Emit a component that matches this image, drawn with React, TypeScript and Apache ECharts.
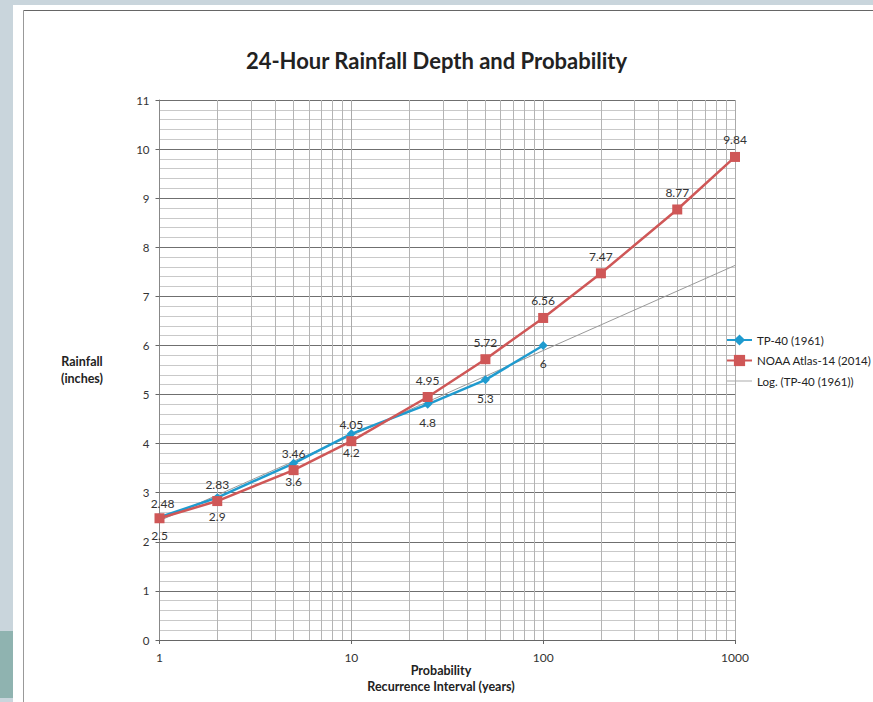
import React, { useEffect, useRef } from "react";
import * as echarts from "echarts";

const INTERVALS = [1, 2, 5, 10, 25, 50, 100, 200, 500, 1000];
const TP40 = [2.5, 2.9, 3.6, 4.2, 4.8, 5.3, 6];
const NOAA = [2.48, 2.83, 3.46, 4.05, 4.95, 5.72, 6.56, 7.47, 8.77, 9.84];
const TREND_X = [1, 1000];
const TREND_Y = [2.43, 7.63];
const MINOR_X = [2, 3, 4, 5, 6, 7, 8, 9, 20, 30, 40, 50, 60, 70, 80, 90, 200, 300, 400, 500, 600, 700, 800, 900];

const FONT = "Lato, 'Noto Sans', sans-serif";
const BLUE = "#1f9bcf";
const RED = "#cf5757";

export default function App() {
  const ref = useRef<HTMLDivElement>(null);
  useEffect(() => {
    if (!ref.current) return;
    const chart = echarts.init(ref.current, null, { renderer: "svg" });
    const labelStyle = { fontFamily: FONT, fontSize: 12, color: "#333" };
    chart.setOption({
      animation: false,
      backgroundColor: "#c9d5dc",
      textStyle: { fontFamily: FONT },
      graphic: [
        { type: "rect", z: -10, shape: { x: 13, y: 5, width: 860, height: 697 }, style: { fill: "#ffffff" } },
        { type: "rect", z: -10, shape: { x: 0, y: 631, width: 13, height: 67 }, style: { fill: "#8fb3b0" } },
        { type: "line", z: -9, shape: { x1: 23.5, y1: 10.5, x2: 873, y2: 10.5 }, style: { stroke: "#666", lineWidth: 1 } },
        { type: "line", z: -9, shape: { x1: 23.5, y1: 10.5, x2: 23.5, y2: 702 }, style: { stroke: "#999", lineWidth: 1 } },
        {
          type: "text", x: 82, y: 353,
          style: { text: "Rainfall\n(inches)", fontFamily: FONT, fontSize: 12.5, fontWeight: "bold", fill: "#222", lineHeight: 17, align: "center" },
        },
        {
          type: "text", x: 441, y: 662,
          style: { text: "Probability\nRecurrence Interval (years)", fontFamily: FONT, fontSize: 12.5, fontWeight: "bold", fill: "#222", lineHeight: 16, align: "center" },
        },
      ],
      title: {
        text: "24-Hour Rainfall Depth and Probability",
        left: "center",
        top: 44,
        textStyle: { fontFamily: FONT, fontSize: 22, fontWeight: "bold", color: "#222" },
      },
      legend: {
        orient: "vertical",
        left: 721,
        top: 329,
        itemWidth: 25,
        itemHeight: 14,
        itemGap: 8.5,
        textStyle: { fontFamily: FONT, fontSize: 11.5, color: "#222" },
        data: [
          { name: "TP-40 (1961)" },
          { name: "NOAA Atlas-14 (2014)" },
          { name: "Log. (TP-40 (1961))", icon: "path://M0,0H25V1H0Z", itemStyle: { color: "#aaa" } },
        ],
      },
      grid: { left: 159.5, right: 138, top: 100, bottom: 62, containLabel: false },
      xAxis: {
        type: "log",
        logBase: 10,
        min: 1,
        max: 1000,
        axisLine: { show: true, lineStyle: { color: "#666", width: 1 } },
        axisTick: { show: true, length: 4, lineStyle: { color: "#666" } },
        axisLabel: { fontFamily: FONT, fontSize: 12, color: "#333", margin: 11, formatter: (v: number) => String(Math.round(v)) },
        splitLine: { show: true, lineStyle: { color: "#aaa", width: 1 } },
        minorTick: { show: false },
        minorSplitLine: { show: false },
      },
      yAxis: {
        type: "value",
        min: 0,
        max: 11,
        interval: 1,
        axisLine: { show: true, lineStyle: { color: "#888", width: 1 } },
        axisTick: { show: true, length: 4, lineStyle: { color: "#666" } },
        axisLabel: { fontFamily: FONT, fontSize: 11.5, color: "#333", margin: 10 },
        splitLine: { show: true, lineStyle: { color: "#6f6f6f", width: 1 } },
        minorTick: { show: false, splitNumber: 5 },
        minorSplitLine: { show: true, lineStyle: { color: "#c9c9c9", width: 1 } },
      },
      series: [
        {
          name: "minor-grid",
          type: "line",
          data: [],
          silent: true,
          z: 0,
          markLine: {
            silent: true,
            z: 0,
            symbol: ["none", "none"],
            label: { show: false },
            lineStyle: { color: "#b4b4b4", width: 1, type: "solid" },
            data: MINOR_X.map((v) => ({ xAxis: v })),
          },
        },
        {
          name: "Log. (TP-40 (1961))",
          type: "line",
          data: TREND_X.map((x, i) => [x, TREND_Y[i]]),
          showSymbol: false,
          symbol: "none",
          lineStyle: { color: "#9a9a9a", width: 1 },
          itemStyle: { color: "#9a9a9a" },
          z: 3,
        },
        {
          name: "TP-40 (1961)",
          type: "line",
          data: TP40.map((y, i) => [INTERVALS[i], y]),
          symbol: "diamond",
          symbolSize: 9,
          color: BLUE,
          lineStyle: { color: BLUE, width: 2.5 },
          itemStyle: { color: BLUE },
          label: { show: true, position: "bottom", distance: 8, formatter: (p: any) => String(p.value[1]), ...labelStyle },
          z: 4,
        },
        {
          name: "NOAA Atlas-14 (2014)",
          type: "line",
          data: NOAA.map((y, i) =>
            i === 0
              ? { value: [INTERVALS[i], y], label: { offset: [3, 2] } }
              : { value: [INTERVALS[i], y] }
          ),
          symbol: "rect",
          symbolSize: 10,
          color: RED,
          lineStyle: { color: RED, width: 2.5 },
          itemStyle: { color: RED },
          label: { show: true, position: "top", distance: 6, formatter: (p: any) => String(p.value[1]), ...labelStyle },
          z: 5,
        },
      ],
    });
    return () => chart.dispose();
  }, []);
  return <div ref={ref} style={{ position: "fixed", left: 0, top: 0, width: 873, height: 702 }} />;
}
